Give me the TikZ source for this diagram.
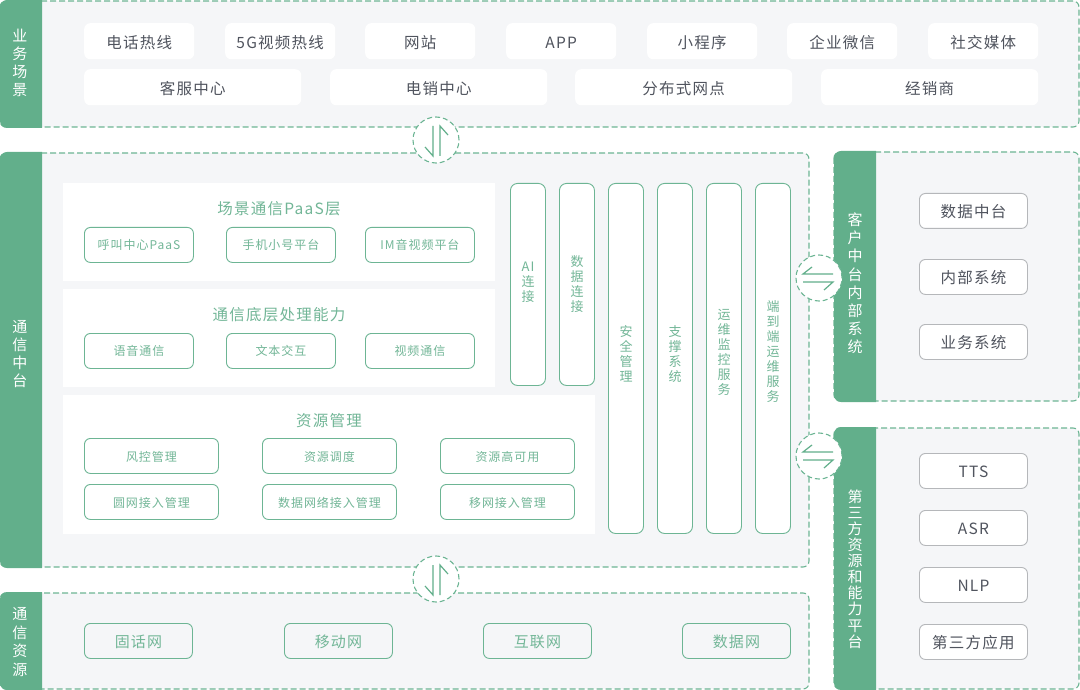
\documentclass[tikz,border=0pt]{standalone}
\usepackage{fontspec}
\setmainfont[LetterSpace=8]{Noto Sans CJK SC}
\usepackage{xcolor}
\usetikzlibrary{
  arrows.meta,
  positioning,
  calc
}
\definecolor{bandgreen}{HTML}{62AF8B}
\definecolor{linegreen}{HTML}{6DB594}
\definecolor{textgreen}{HTML}{72B697}
\definecolor{panelgray}{HTML}{F5F6F8}
\definecolor{textdark}{HTML}{50545E}
\definecolor{outlinegray}{HTML}{B5B7BA}

\begin{document}
\begin{tikzpicture}[
  x=1pt, y=-1pt,
  panelbody/.style={draw=linegreen, fill=panelgray, line width=1.1pt,
                    dash pattern=on 6pt off 3pt, rounded corners=6pt},
  bandlbl/.style={text=white, align=center, inner sep=0pt},
  whitebox/.style={fill=white, rounded corners=6pt, anchor=north west, inner sep=0pt,
                   text=textdark, text height=14pt, text depth=0pt,
                   font=\fontsize{15.5}{18}\selectfont},
  layerbox/.style={fill=white, anchor=north west, inner sep=0pt},
  layertitle/.style={text=textgreen, inner sep=0pt, font=\fontsize{15.5}{18}\selectfont},
  smallbox/.style={draw=linegreen, fill=white, line width=0.9pt, rounded corners=6pt,
                   anchor=north west, inner sep=0pt, minimum width=109pt, minimum height=35pt,
                   text=textgreen, font=\fontsize{12}{15}\selectfont},
  tallbox/.style={draw=linegreen, fill=white, line width=0.9pt, rounded corners=7pt,
                  anchor=north west, inner sep=0pt, minimum width=35pt},
  talltext/.style={align=center, inner sep=0pt, text=textgreen,
                   font=\fontsize{13}{15}\selectfont},
  sidebox/.style={draw=outlinegray, fill=white, line width=0.9pt, rounded corners=6pt,
                  anchor=north west, inner sep=0pt, minimum width=108pt, minimum height=35pt,
                  text=textdark, text height=13pt, text depth=0pt,
                  font=\fontsize{15.5}{18}\selectfont},
  netbox/.style={draw=linegreen, fill=panelgray, line width=0.9pt, rounded corners=6pt,
                 anchor=north west, inner sep=0pt, minimum width=108pt, minimum height=35pt,
                 text=textgreen, text height=13.5pt, text depth=0pt,
                 font=\fontsize{15}{18}\selectfont},
  linkcircle/.style={circle, draw=linegreen, fill=white, line width=1.1pt,
                     dash pattern=on 5pt off 3pt, minimum size=46pt, inner sep=0pt},
  linkarrow/.style={draw=bandgreen, line width=1.2pt},
]
  \useasboundingbox (0,0) rectangle (1080,690);

  % Panels with their green bands
  \foreach \pname/\xa/\ya/\xb/\yb/\cx/\cy/\lsk/\lbl in {
    scene/0/1/1079/127/20/63/18/{业\\务\\场\\景},
    comm/0/153/809/567/20/354/18.3/{通\\信\\中\\台},
    res/0/593/809/689/20/642/18.6/{通\\信\\资\\源},
    inner/834/152/1079/401/855/283.5/18.2/{客\\户\\中\\台\\内\\部\\系\\统},
    third/834/428/1079/689/855/569/16.1/{第\\三\\方\\资\\源\\和\\能\\力\\平\\台}} {
    \draw[panelbody] (\xa,\ya) rectangle (\xb,\yb);
    \fill[bandgreen] (\xa+42,\ya-1) [rounded corners=7pt] -- (\xa,\ya-1) -- (\xa,\yb+1)
      [sharp corners] -- (\xa+42,\yb+1) -- cycle;
    \node[bandlbl, font=\fontsize{15}{\lsk}\selectfont] (\pname) at (\cx,\cy) {\lbl};
  }

  % Business scenes
  \foreach \idx/\x/\txt in {1/84/电话热线, 2/225/5G视频热线, 3/365/网站, 4/506/APP,
                            5/647/小程序, 6/787/企业微信, 7/928/社交媒体} {
    \node[whitebox, minimum width=110pt, minimum height=36pt] (top\idx) at (\x,23) {\txt};
  }
  \foreach \idx/\x/\txt in {1/84/客服中心, 2/330/电销中心, 3/575/分布式网点, 4/821/经销商} {
    \node[whitebox, minimum width=217pt, minimum height=36pt] (chan\idx) at (\x,69) {\txt};
  }

  % Layers of the platform
  \node[layerbox, minimum width=432pt, minimum height=98pt] (paas) at (63,183) {};
  \node[layerbox, minimum width=432pt, minimum height=98pt] (base) at (63,289) {};
  \node[layerbox, minimum width=532pt, minimum height=139pt] (mgmt) at (63,395) {};
  \node[layertitle] (paastitle) at (279,209) {场景通信PaaS层};
  \node[layertitle] (basetitle) at (279,315) {通信底层处理能力};
  \node[layertitle] (mgmttitle) at (329,421) {资源管理};
  \foreach \idx/\x/\txt in {1/84/呼叫中心PaaS, 2/226/手机小号平台, 3/365/IM音视频平台} {
    \node[smallbox] (pb\idx) at (\x,227) {\txt};
  }
  \foreach \idx/\x/\txt in {1/84/语音通信, 2/226/文本交互, 3/365/视频通信} {
    \node[smallbox] (bb\idx) at (\x,333) {\txt};
  }
  \foreach \idx/\x/\txt in {1/84/风控管理, 2/262/资源调度, 3/440/资源高可用} {
    \node[smallbox, minimum width=134pt, text height=11pt, text depth=0pt] (ma\idx) at (\x,438) {\txt};
  }
  \foreach \idx/\x/\txt in {1/84/圆网接入管理, 2/262/数据网络接入管理, 3/440/移网接入管理} {
    \node[smallbox, minimum width=134pt, text height=11pt, text depth=0pt] (mb\idx) at (\x,484) {\txt};
  }

  % Vertical columns
  \foreach \idx/\x/\h/\cy/\txt in {1/510/202/282/{AI\\连\\接}, 2/559/202/284/{数\\据\\连\\接},
                                   3/608/350/354/{安\\全\\管\\理}, 4/657/350/354/{支\\撑\\系\\统},
                                   5/706/350/352/{运\\维\\监\\控\\服\\务},
                                   6/755/350/351.5/{端\\到\\端\\运\\维\\服\\务}} {
    \node[tallbox, minimum height=\h pt] (col\idx) at (\x,183) {};
    \node[talltext] (coltext\idx) at (\x+18,\cy) {\txt};
  }

  % Side systems
  \foreach \idx/\y/\txt in {1/193/数据中台, 2/259/内部系统, 3/324/业务系统} {
    \node[sidebox] (sys\idx) at (919,\y) {\txt};
  }
  \foreach \idx/\y/\txt in {1/453/TTS, 2/510/ASR, 3/567/NLP, 4/624/第三方应用} {
    \node[sidebox] (ext\idx) at (919,\y) {\txt};
  }

  % Networks
  \foreach \idx/\x/\txt in {1/84/固话网, 2/284/移动网, 3/483/互联网, 4/682/数据网} {
    \node[netbox] (net\idx) at (\x,623) {\txt};
  }

  % Link marks between the panels
  \foreach \cname/\cx/\cy in {linka/436/140, linkb/436/579} {
    \node[linkcircle] (\cname) at (\cx,\cy) {};
    \draw[linkarrow] ($(\cname)+(-11,7)$) -- ($(\cname)+(-3,16)$) -- ($(\cname)+(-3,-14)$);
    \draw[linkarrow] ($(\cname)+(4,16)$) -- ($(\cname)+(4,-14)$) -- ($(\cname)+(12,-5)$);
  }
  \foreach \cname/\cx/\cy in {linkc/819/278, linkd/819/456} {
    \node[linkcircle] (\cname) at (\cx,\cy) {};
    \draw[linkarrow] ($(\cname)+(-7,-11)$) -- ($(\cname)+(-16,-4)$) -- ($(\cname)+(14,-4)$);
    \draw[linkarrow] ($(\cname)+(-16,4)$) -- ($(\cname)+(14,4)$) -- ($(\cname)+(5,12)$);
  }
\end{tikzpicture}
\end{document}
